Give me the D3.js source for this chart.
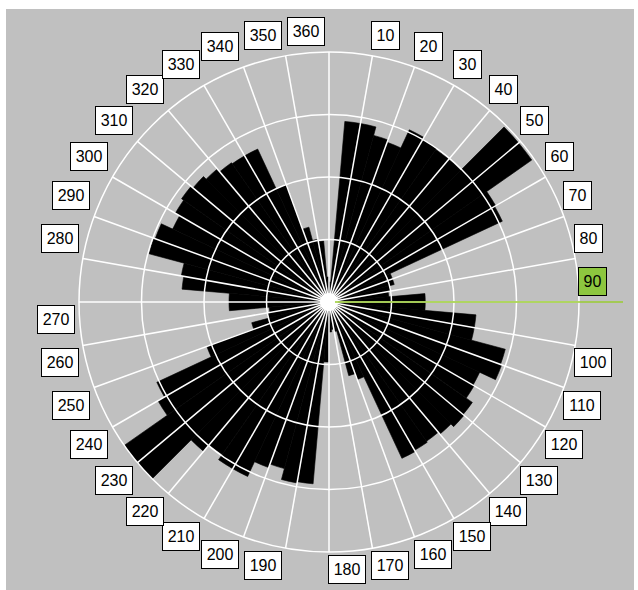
<!DOCTYPE html>
<html>
<head>
<meta charset="utf-8">
<script src="https://cdn.jsdelivr.net/npm/d3@7"></script>
<style>
  html, body { margin: 0; padding: 0; background: #ffffff; }
  svg { display: block; }
  text { font-family: "Liberation Sans", Arial, sans-serif; }
</style>
</head>
<body>
<svg id="chart" width="638" height="590"></svg>
<script>
// Direction bins (start angle in degrees, clockwise from north), 5 degrees wide
const binStart = [
  0, 5, 10, 15, 20, 25, 30, 35, 40, 45, 50, 55,
  60, 65, 70, 75, 80, 85, 90, 95, 100, 105, 110, 115,
  120, 125, 130, 135, 140, 145, 150, 155, 160, 165, 170, 175,
  180, 185, 190, 195, 200, 205, 210, 215, 220, 225, 230, 235,
  240, 245, 250, 255, 260, 265, 270, 275, 280, 285, 290, 295,
  300, 305, 310, 315, 320, 325, 330, 335, 340, 345, 350, 355
];
const binWidth = 5;

// Frequency in each bin
const binValue = [
  1.6, 14.5, 14.5, 13.8, 13.6, 15.2, 15.0, 14.9, 14.9, 19.8, 19.8, 15.4,
  15.3, 5.4, 5.4, 5.0, 4.8, 7.7, 7.7, 11.8, 11.8, 14.6, 14.7, 13.3,
  13.4, 14.0, 14.1, 13.8, 13.6, 13.7, 13.8, 6.6, 6.1, 2.4, 2.2, 2.4,
  4.8, 14.6, 14.7, 13.8, 14.1, 15.4, 15.4, 14.9, 15.6, 20.0, 20.0, 15.8,
  15.2, 10.4, 6.4, 5.0, 4.8, 8.0, 8.0, 11.8, 12.0, 14.9, 14.8, 13.8,
  14.2, 14.4, 14.2, 13.9, 13.6, 13.5, 13.5, 10.0, 6.2, 5.1, 4.9, 2.0
];

// Compass labels around the rim
const labelAngles = [10, 20, 30, 40, 50, 60, 70, 80, 90, 100, 110, 120,
  130, 140, 150, 160, 170, 180, 190, 200, 210, 220, 230, 240,
  250, 260, 270, 280, 290, 300, 310, 320, 330, 340, 350, 360];

// Concentric rings
const ringValues = [5, 10, 15, 20];

// Highlighted direction
const selectedAngle = 90;

const svg = d3.select("#chart");
const W = 638, H = 590;
const cx = 329, cy = 302;
const outerR = 250;

const rScale = d3.scaleLinear().domain([0, 20]).range([0, outerR]);
const toRad = d => d * Math.PI / 180;

// Window background
svg.append("rect").attr("x", 6).attr("y", 9).attr("width", W - 10).attr("height", H - 9)
  .attr("fill", "#c0c0c0");

const g = svg.append("g").attr("transform", `translate(${cx},${cy})`);

// Wedges (thin matching stroke closes the seams between neighbours)
const arc = d3.arc()
  .innerRadius(0)
  .outerRadius(d => rScale(d.v))
  .startAngle(d => toRad(d.a))
  .endAngle(d => toRad(d.a + binWidth));

const bins = binStart.map((a, i) => ({ a, v: binValue[i] }));
g.append("g").selectAll("path").data(bins).enter().append("path")
  .attr("d", arc)
  .attr("fill", "#000000")
  .attr("stroke", "#000000")
  .attr("stroke-width", 0.6)
  .attr("stroke-linejoin", "miter");

// Grid: rings
g.append("g").selectAll("circle").data(ringValues).enter().append("circle")
  .attr("r", d => rScale(d))
  .attr("fill", "none")
  .attr("stroke", "#ffffff")
  .attr("stroke-width", 1.5);

// Grid: spokes
g.append("g").selectAll("line").data(labelAngles).enter().append("line")
  .attr("x1", 0).attr("y1", 0)
  .attr("x2", d => rScale(20) * Math.sin(toRad(d)))
  .attr("y2", d => -rScale(20) * Math.cos(toRad(d)))
  .attr("stroke", "#ffffff")
  .attr("stroke-width", 1.5);

g.append("circle").attr("r", 9).attr("fill", "#ffffff");

// Selected direction line
g.append("line")
  .attr("x1", 6 * Math.sin(toRad(selectedAngle))).attr("y1", 0)
  .attr("x2", (rScale(20) + 44) * Math.sin(toRad(selectedAngle)))
  .attr("y2", -(rScale(20) + 44) * Math.cos(toRad(selectedAngle)))
  .attr("stroke", "#9acd32")
  .attr("stroke-width", 1.5);

// Rim labels in boxes
const boxH = 28;
const labels = svg.append("g");
labelAngles.forEach(a => {
  const px = cx + outerR * Math.sin(toRad(a));
  const py = cy - outerR * Math.cos(toRad(a));
  const txt = String(a);
  const w = txt.length === 3 ? 37 : 28;
  const right = a <= 180;
  const upper = a <= 90 || a > 270;
  const bx = right ? px - 1 : px - 5 - w;
  const by = upper ? py - 7 - boxH : py + 3;
  const sel = a === selectedAngle;
  labels.append("rect")
    .attr("x", Math.round(bx) + 0.5).attr("y", Math.round(by) + 0.5)
    .attr("width", w).attr("height", boxH)
    .attr("fill", sel ? "#8dc63f" : "#ffffff")
    .attr("stroke", "#000000").attr("stroke-width", 1);
  labels.append("text")
    .attr("x", Math.round(bx) + 0.5 + w / 2)
    .attr("y", Math.round(by) + 20)
    .attr("text-anchor", "middle")
    .attr("font-size", 16)
    .attr("fill", "#000000")
    .text(txt);
});
</script>
</body>
</html>
